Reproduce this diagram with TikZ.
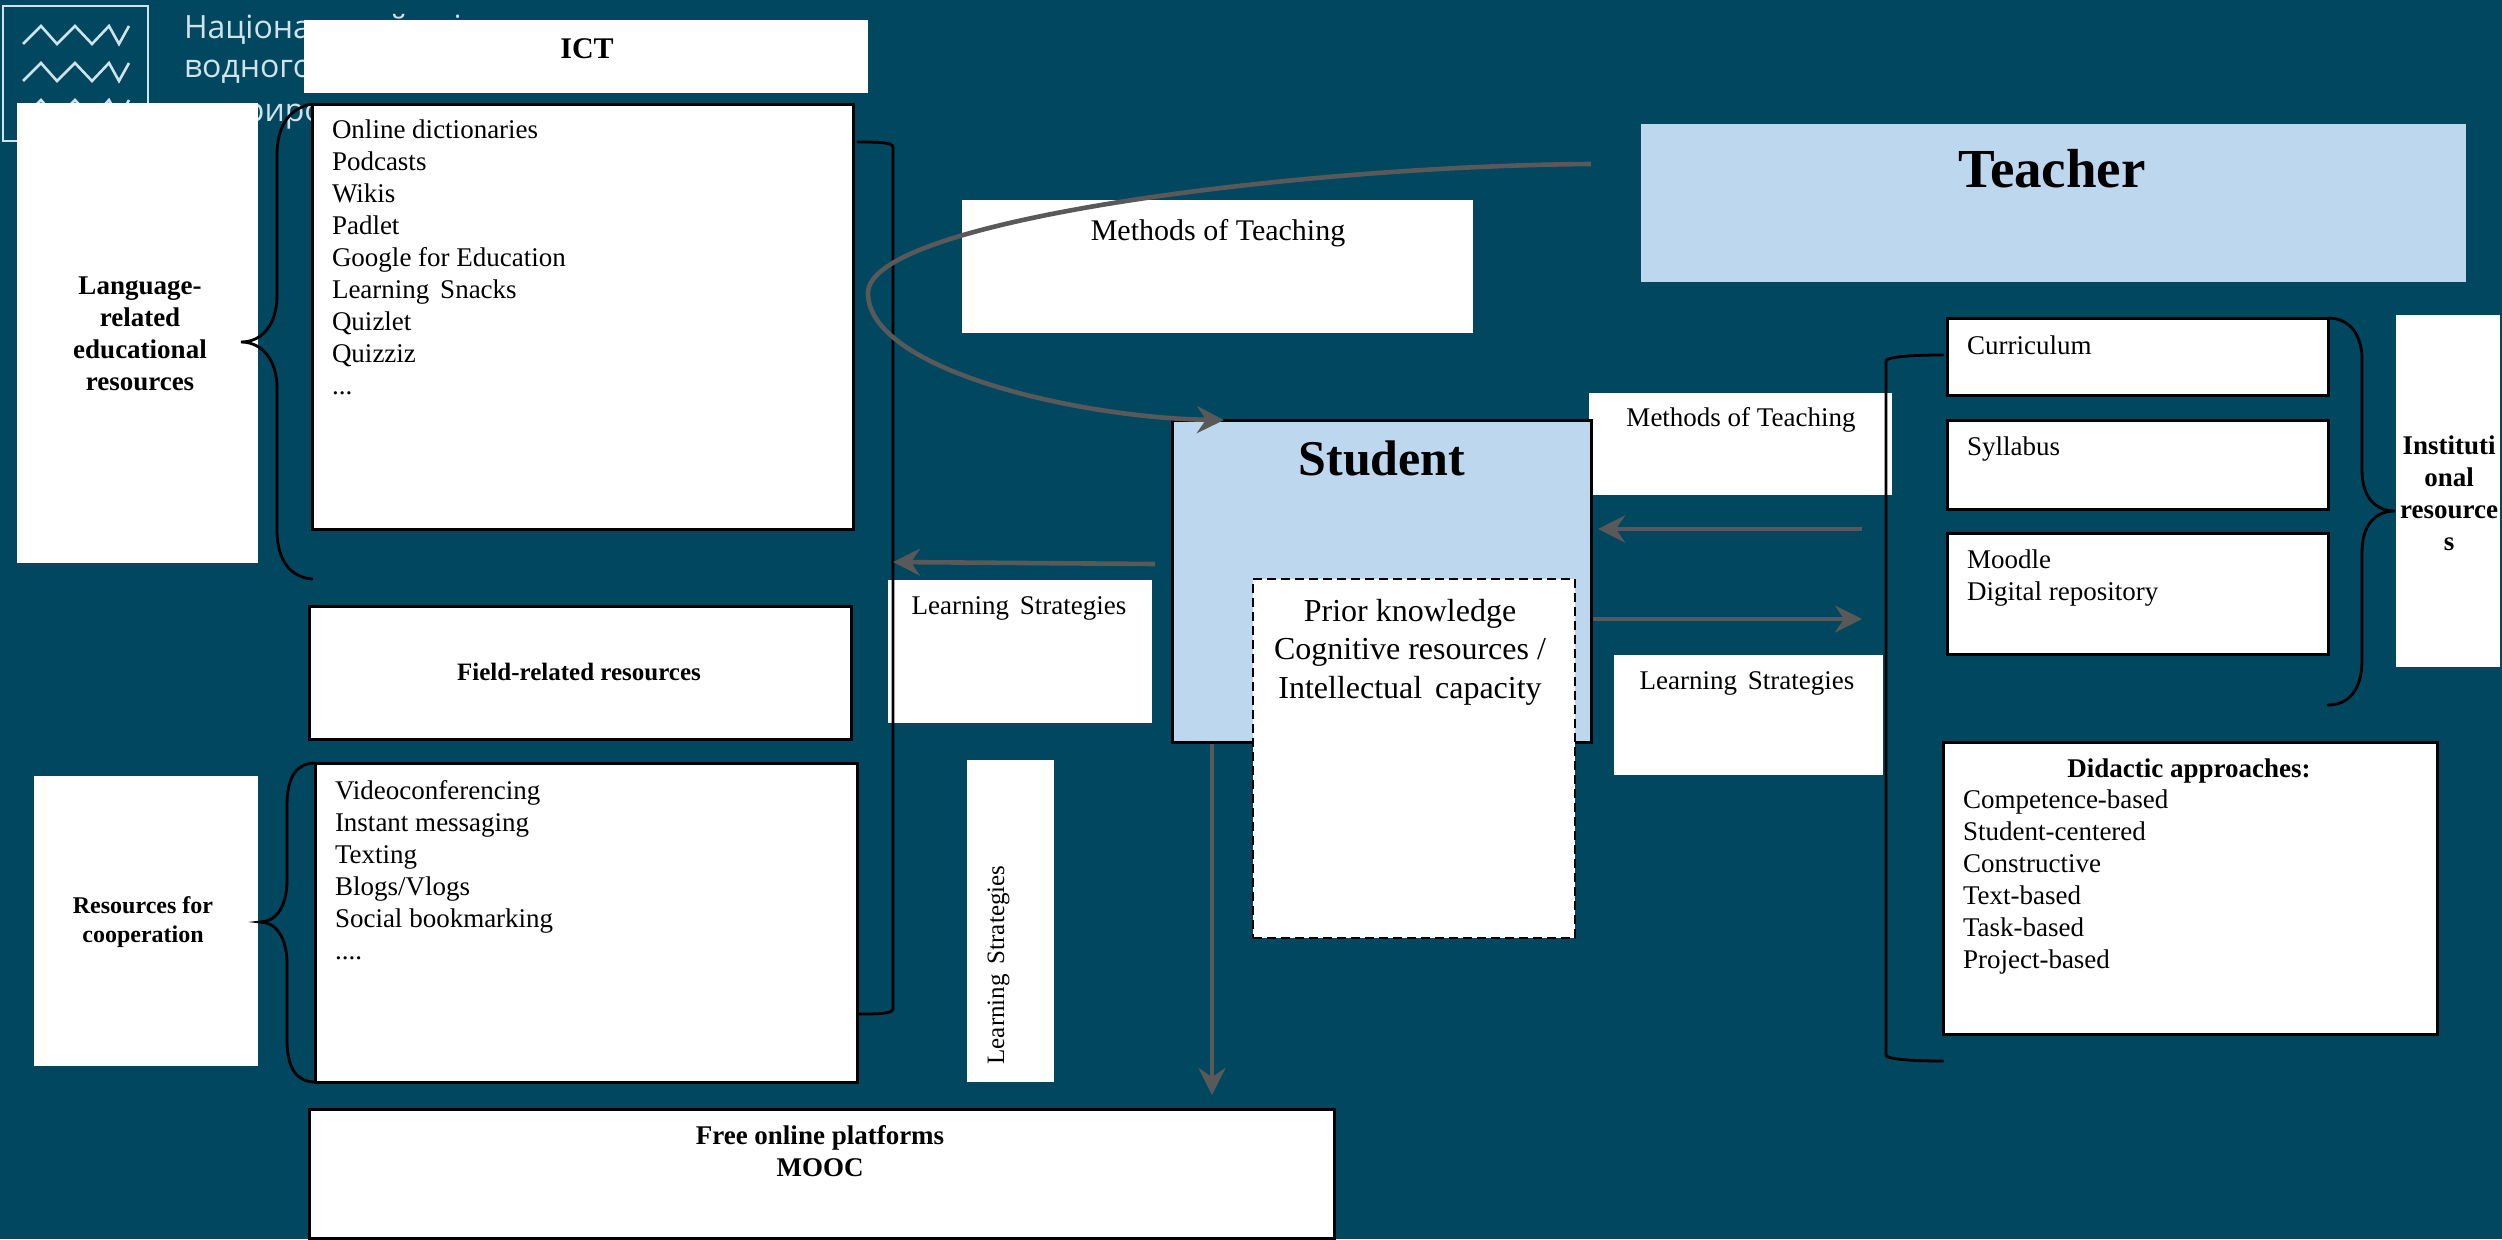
\documentclass[tikz,border=0pt]{standalone}
\usepackage{fontspec}
\usetikzlibrary{arrows.meta}
\setmainfont{Liberation Serif}
\newfontfamily\logofont{Open Sans}
\definecolor{bgc}{HTML}{00475F}
\definecolor{paleblue}{HTML}{BDD7EE}
\definecolor{arrowgrey}{HTML}{595959}
\definecolor{logoc}{HTML}{CFE3EA}
\newcommand{\boxat}[6]{\pgfmathsetmacro\myw{#5-#3}\pgfmathsetmacro\myh{#6-#4}\node[#1,anchor=north west,minimum width=\myw pt,minimum height=\myh pt] (#2) at (#3,#4) {};}
\tikzset{
  x=1pt,y=-1pt,
  plain/.style={fill=white,inner sep=0pt,outer sep=0pt},
  framed/.style={fill=white,draw=black,line width=3pt,inner sep=0pt,outer sep=0pt},
  dashedbox/.style={fill=white,draw=black,line width=2.5pt,dash pattern=on 9pt off 5pt,inner sep=0pt,outer sep=0pt},
  palebox/.style={fill=paleblue,inner sep=0pt,outer sep=0pt},
  studentbox/.style={fill=paleblue,draw=black,line width=3pt,inner sep=0pt,outer sep=0pt},
  body/.style={inner sep=0pt,outer sep=0pt,font=\fontsize{27}{32}\selectfont,align=left,text=black},
  bodyc/.style={body,align=center},
  head/.style={inner sep=0pt,outer sep=0pt,font=\fontsize{27}{32}\selectfont\bfseries,align=center,text=black},
  brace/.style={draw=black,line width=2.8pt,line cap=round},
  flow/.style={draw=arrowgrey,line width=4.6pt,-{Stealth[length=27pt,width=27pt,inset=9pt]}},
  logotext/.style={inner sep=0pt,outer sep=0pt,text=logoc,font=\logofont\fontsize{32}{44}\selectfont,align=left},
  logoline/.style={draw=logoc,line width=2.6pt},
}
\begin{document}
\begin{tikzpicture}
\useasboundingbox[fill=bgc] (0,0) rectangle (2502,1239);
% logo
\draw[logoline] (3,6) rectangle (148,141);
\foreach \yy in {26,63,100}{
  \draw[logoline] (23,\yy+18) -- (41,\yy) -- (57,\yy+18) -- (75,\yy) -- (92,\yy+18) -- (109,\yy) -- (119,\yy+18) -- (129,\yy);
}
\node[logotext,anchor=west] (logoA) at (184,30) {Національний університет};
\node[logotext,anchor=west] (logoB) at (184,73) {водного господарства};
\node[logotext,anchor=west] (logoC) at (184,117) {та природокористування};
% white boxes
\boxat{plain}{ict}{304}{20}{868}{93}
\boxat{plain}{lang}{17}{103}{258}{563}
\boxat{framed}{list}{312}{104}{853}{529}
\boxat{framed}{field}{309}{606}{851}{739}
\boxat{framed}{coop}{315}{763}{857}{1082}
\boxat{plain}{rescoop}{34}{776}{258}{1066}
\boxat{framed}{mooc}{309}{1109}{1334}{1238}
\boxat{plain}{mta}{962}{200}{1473}{333}
\boxat{plain}{mtb}{1589}{393}{1892}{495}
\boxat{plain}{lsa}{888}{580}{1152}{723}
\boxat{plain}{lsb}{1614}{655}{1883}{775}
\boxat{plain}{lsc}{967}{760}{1054}{1082}
\boxat{palebox}{teacher}{1641}{124}{2466}{282}
\boxat{studentbox}{student}{1172}{420}{1591}{742}
\boxat{dashedbox}{prior}{1253}{579}{1575}{938}
\boxat{framed}{curr}{1947}{318}{2328}{395}
\boxat{framed}{syll}{1947}{420}{2328}{509}
\boxat{framed}{moodle}{1947}{533}{2328}{654}
\boxat{framed}{didactic}{1943}{742}{2437}{1034}
\boxat{plain}{inst}{2396}{315}{2500}{667}
% texts
\node[head,anchor=base,font=\fontsize{30}{34}\selectfont\bfseries] (ictT) at (587,59) {ICT};
\node[head,anchor=north] (langT) at (140,277) {Language-\\related\\educational\\resources};
\node[body,anchor=north west] (listT) at (332,120) {Online dictionaries\\Podcasts\\Wikis\\Padlet\\Google for Education\\Learning\hspace{.4em}Snacks\\Quizlet\\Quizziz\\...};
\node[head,anchor=base,font=\fontsize{25}{29}\selectfont\bfseries] (fieldT) at (579,680) {Field-related resources};
\node[head,anchor=north,font=\fontsize{24}{29}\selectfont\bfseries] (rescoopT) at (143,897) {Resources for\\cooperation};
\node[body,anchor=north west] (coopT) at (335,780.5) {Videoconferencing\\Instant messaging\\Texting\\Blogs/Vlogs\\Social bookmarking\\....};
\node[head,anchor=north] (moocT) at (820,1125) {Free online platforms\\MOOC};
\node[body,anchor=base,font=\fontsize{30}{34}\selectfont] (mtaT) at (1218,240) {Methods of Teaching};
\node[body,anchor=base] (mtbT) at (1741,426.5) {Methods of Teaching};
\node[body,anchor=base] (lsaT) at (1019,614) {Learning\hspace{.4em}Strategies};
\node[body,anchor=base] (lsbT) at (1747,689) {Learning\hspace{.4em}Strategies};
\node[body,anchor=base,rotate=90,font=\fontsize{25}{29}\selectfont] (lscT) at (1004,965) {Learning\hspace{.4em}Strategies};
\node[head,anchor=base,font=\fontsize{55}{60}\selectfont\bfseries] (teacherT) at (2052,187) {Teacher};
\node[head,anchor=base,font=\fontsize{50}{56}\selectfont\bfseries] (studentT) at (1382,475) {Student};
\node[bodyc,anchor=north,font=\fontsize{32}{38.5}\selectfont] (priorT) at (1410,599) {Prior knowledge\\Cognitive resources /\\Intellectual\hspace{.4em}capacity};
\node[body,anchor=base west] (currT) at (1967,354) {Curriculum};
\node[body,anchor=base west] (syllT) at (1967,455) {Syllabus};
\node[body,anchor=north west] (moodleT) at (1967,549.6) {Moodle\\Digital repository};
\node[head,anchor=north] (instT) at (2449,436) {Instituti\\onal\\resource\\s};
\node[head,anchor=base] (didT) at (2189,777) {Didactic approaches:};
\node[body,anchor=north west] (didL) at (1963,790) {Competence-based\\Student-centered\\Constructive\\Text-based\\Task-based\\Project-based};
% brace anchors
\coordinate (bA1) at (312,104); \coordinate (bA2) at (241,342); \coordinate (bA3) at (312,579);
\coordinate (bB1) at (315,763); \coordinate (bB2) at (260,922); \coordinate (bB3) at (315,1082);
\coordinate (bC1) at (2328,318); \coordinate (bC2) at (2395,511); \coordinate (bC3) at (2328,705);
\coordinate (bD1) at (858,142); \coordinate (bD2) at (858,1014);
\coordinate (bE1) at (1943,355); \coordinate (bE2) at (1943,1061);
\draw[brace] (bA1) .. controls (290,108) and (277,125) .. (277,155) -- (277,295) .. controls (277,325) and (262,342) .. (bA2) .. controls (262,342) and (277,360) .. (277,388) -- (277,530) .. controls (277,560) and (290,577) .. (bA3);
\draw[brace] (bB1) .. controls (298,763) and (287,775) .. (287,805) -- (287,880) .. controls (287,908) and (275,922) .. (bB2) .. controls (275,922) and (287,936) .. (287,964) -- (287,1040) .. controls (287,1070) and (298,1082) .. (bB3);
\draw[brace] (bC1) .. controls (2350,318) and (2362,335) .. (2362,360) -- (2362,470) .. controls (2362,497) and (2375,511) .. (bC2) .. controls (2375,511) and (2362,525) .. (2362,552) -- (2362,660) .. controls (2362,688) and (2350,705) .. (bC3);
\draw[brace] (bD1) .. controls (875,142) and (893,142) .. (893,147) -- (893,1009) .. controls (893,1014) and (875,1014) .. (bD2);
\draw[brace] (bE1) .. controls (1910,355) and (1886,357) .. (1886,361) -- (1886,1055) .. controls (1886,1059) and (1910,1061) .. (bE2);
% arrows
\coordinate (tStart) at (1591,164);
\coordinate (sIn) at (1224,420);
\draw[flow] (tStart) .. controls (1300,166) and (868,220) .. (868,293) .. controls (868,370) and (1080,418) .. (sIn);
\coordinate (aA1) at (1155,564); \coordinate (aA2) at (893,562);
\coordinate (aB1) at (1862,529); \coordinate (aB2) at (1598,529);
\coordinate (aC1) at (1593,619); \coordinate (aC2) at (1862,619);
\coordinate (aD1) at (1212,744); \coordinate (aD2) at (1212,1095);
\draw[flow] (aA1) -- (aA2);
\draw[flow] (aB1) -- (aB2);
\draw[flow] (aC1) -- (aC2);
\draw[flow] (aD1) -- (aD2);
\end{tikzpicture}
\end{document}
